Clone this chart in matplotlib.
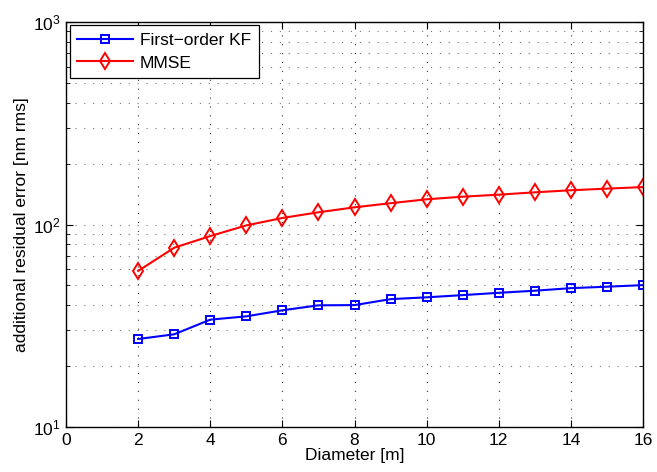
import numpy as np
import matplotlib
matplotlib.use("Agg")
import matplotlib.pyplot as plt
from matplotlib.ticker import LogLocator, NullFormatter

plt.rcParams['font.family'] = ['Liberation Sans', 'DejaVu Sans']
plt.rcParams['mathtext.fontset'] = 'custom'
plt.rcParams['mathtext.rm'] = 'Liberation Sans'

# Data
diameter = [2, 3, 4, 5, 6, 7, 8, 9, 10, 11, 12, 13, 14, 15, 16]
kf_error = [27.2, 28.7, 33.9, 35.2, 37.7, 39.9, 40.0, 42.8, 43.7, 44.8, 46.0, 47.1, 48.5, 49.3, 50.2]
mmse_error = [59.0, 76.8, 87.7, 99.0, 107.7, 114.9, 121.6, 127.4, 133.2, 137.2, 140.4, 144.2, 147.6, 150.4, 153.0]

fs = 12.5

fig = plt.figure(figsize=(6.57, 4.72), dpi=100)
ax = fig.add_axes([0.1005, 0.0953, 0.8782, 0.8581])

ax.plot(diameter, kf_error, '-s', color='#0000ff', lw=1.5, ms=6.3,
        mfc='none', mew=1.4, label='First\u2212order KF')
ax.plot(diameter, mmse_error, '-d', color='#ff0000', lw=1.5, ms=8.5,
        mfc='none', mew=1.4, label='MMSE')

ax.set_yscale('log')
ax.set_xlim(0, 16)
ax.set_ylim(10, 1000)
ax.set_xticks(range(0, 17, 2))
ax.yaxis.set_major_locator(LogLocator(base=10))
ax.yaxis.set_minor_locator(LogLocator(base=10, subs=np.arange(2, 10)))
ax.yaxis.set_minor_formatter(NullFormatter())

dots = (0, (1, 7))
ax.grid(True, which='major', axis='x', ls=dots, color='#333333', lw=0.8)
ax.grid(True, which='major', axis='y', ls=dots, color='#777777', lw=0.8)
ax.grid(True, which='minor', axis='y', ls=dots, color='#777777', lw=0.8)

ax.tick_params(which='both', direction='in', top=True, right=True, labelsize=fs)
ax.tick_params(which='major', length=5, pad=4)
ax.tick_params(which='minor', length=3)
for s in ax.spines.values():
    s.set_linewidth(1.0)

ax.set_xlabel('Diameter [m]', fontsize=fs, labelpad=0)
ax.set_ylabel('additional residual error [nm rms]', fontsize=fs, labelpad=3)

leg = ax.legend(loc='upper left', fontsize=fs, fancybox=False, framealpha=1,
                edgecolor='black', borderaxespad=0.2, handlelength=3.2,
                handletextpad=0.4, borderpad=0.45, labelspacing=0.4)
leg.get_frame().set_linewidth(0.9)

fig.savefig('out.png', dpi=100)
